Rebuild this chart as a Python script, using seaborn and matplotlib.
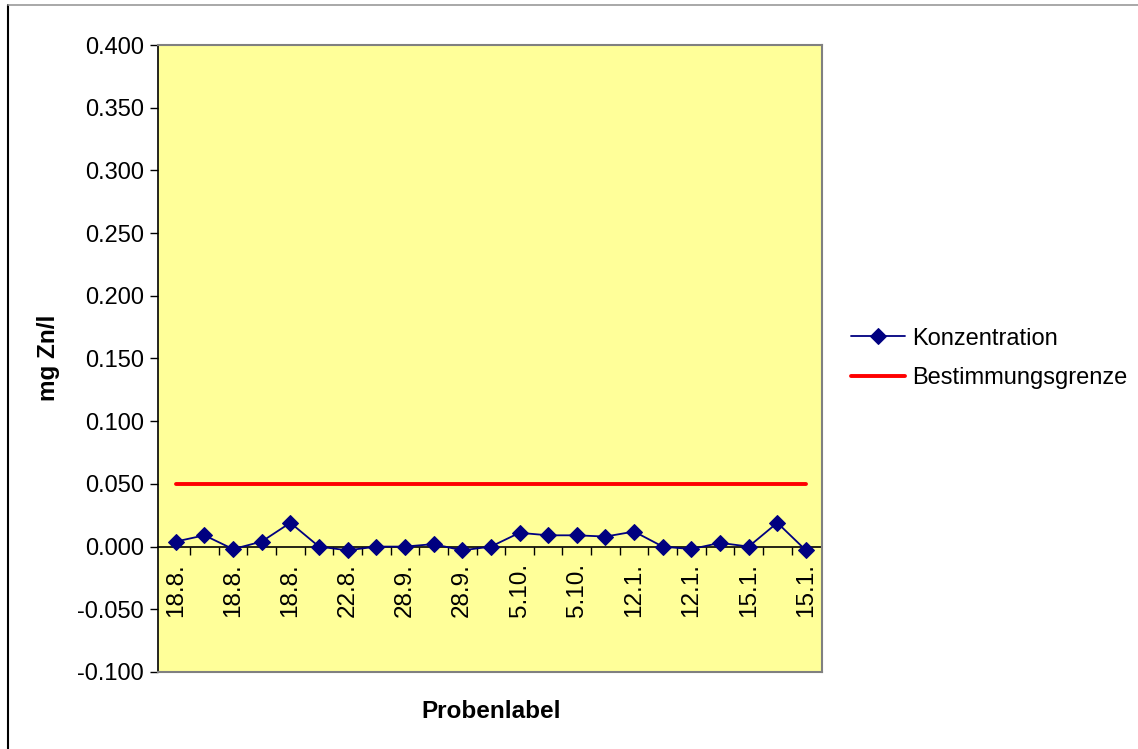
import matplotlib
matplotlib.use("Agg")
import matplotlib.pyplot as plt
from matplotlib.lines import Line2D
from matplotlib.ticker import FixedLocator, FormatStrFormatter
import numpy as np
import pandas as pd
import seaborn as sns

# Zinc concentration per sample (mg Zn/l)
konzentration = [0.004, 0.009, -0.002, 0.004, 0.019, 0.000, -0.003, 0.000,
                 0.000, 0.002, -0.003, 0.000, 0.011, 0.009, 0.009, 0.008,
                 0.012, 0.000, -0.002, 0.003, 0.000, 0.019, -0.003]
bestimmungsgrenze = 0.05
# Labels shown on every second sample
tick_labels = ["18.8.", "18.8.", "18.8.", "22.8.", "28.9.", "28.9.",
               "5.10.", "5.10.", "12.1.", "12.1.", "15.1.", "15.1."]

sns.set_theme(style="white")
plt.rcParams["font.family"] = ["Liberation Sans", "DejaVu Sans"]
for key in ["text.color", "axes.labelcolor", "xtick.color", "ytick.color"]:
    plt.rcParams[key] = "black"

n = len(konzentration)
df = pd.DataFrame({"probe": np.arange(n), "wert": konzentration})
df_grenze = pd.DataFrame({"probe": [0, n - 1],
                          "wert": [bestimmungsgrenze, bestimmungsgrenze]})

fig = plt.figure(figsize=(11.38, 7.49), dpi=100, facecolor="white")
ax = fig.add_axes([158 / 1138, 1 - 672 / 749, 664 / 1138, 627 / 749])
ax.set_facecolor("#FFFF99")

sns.lineplot(data=df_grenze, x="probe", y="wert", ax=ax, color="#FF0000",
             linewidth=2.8, label="Bestimmungsgrenze", zorder=2)
sns.lineplot(data=df, x="probe", y="wert", ax=ax, color="#000080",
             linewidth=1.3, marker="D", markersize=8.5, markeredgecolor="#000080",
             label="Konzentration", zorder=3)

ymin, ymax = -0.1, 0.4
ax.set_ylim(ymin, ymax)
ax.set_xlim(-0.62, n - 1 + 0.56)

ax.yaxis.set_major_locator(FixedLocator(np.arange(-0.1, 0.4001, 0.05)))
ax.yaxis.set_major_formatter(FormatStrFormatter("%.3f"))
ax.tick_params(axis="y", direction="out", length=6, width=1, color="black",
               labelsize=17, pad=4, left=True)
ax.set_xticks([])
ax.set_xlabel("")
ax.set_ylabel("")

for side in ["top", "right", "bottom"]:
    ax.spines[side].set_color("#808080")
    ax.spines[side].set_linewidth(1.5)
ax.spines["left"].set_color("black")
ax.spines["left"].set_linewidth(1.2)

# Category axis crossing at zero
sec = ax.secondary_xaxis((0 - ymin) / (ymax - ymin))
sec.spines["bottom"].set_color("black")
sec.spines["bottom"].set_linewidth(1.2)
sec.set_xticks(np.arange(0.5, n - 1, 1.0), minor=True)
sec.set_xticks(np.arange(0, n, 2))
sec.set_xticklabels(tick_labels, rotation=90, fontsize=17.5)
sec.tick_params(axis="x", which="minor", direction="out", length=6, width=1,
                color="black", bottom=True)
sec.tick_params(axis="x", which="major", length=0, pad=12, bottom=True)

fig.text(48 / 1138, 1 - 358 / 749, "mg Zn/l", fontsize=17.5, fontweight="bold",
         rotation=90, ha="center", va="center")
fig.text(491 / 1138, 1 - 712 / 749, "Probenlabel", fontsize=17.5,
         fontweight="bold", ha="center", va="center")

handles, labels = ax.get_legend_handles_labels()
order = [labels.index("Konzentration"), labels.index("Bestimmungsgrenze")]
leg = ax.legend([handles[i] for i in order], [labels[i] for i in order],
                loc="center left", bbox_to_anchor=(1.029, 0.5), frameon=False,
                fontsize=17, handlelength=2.3, handletextpad=0.3,
                labelspacing=0.75, borderaxespad=0)

# Chart border
fig.add_artist(Line2D([8 / 1138, 8 / 1138], [0, 1 - 5 / 749], color="black",
                      linewidth=1.5, transform=fig.transFigure))
fig.add_artist(Line2D([8 / 1138, 1], [1 - 5 / 749, 1 - 5 / 749], color="#999999",
                      linewidth=1.2, transform=fig.transFigure))

fig.savefig("out.png", dpi=100, facecolor="white")
